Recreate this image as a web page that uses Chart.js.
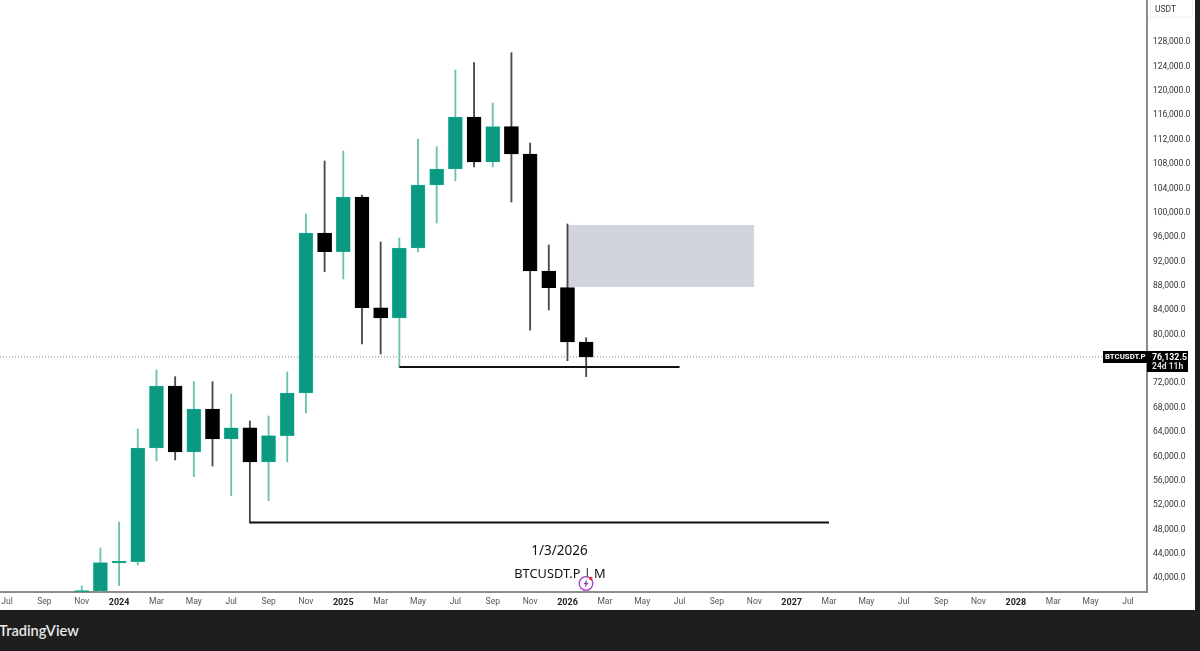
<!DOCTYPE html>
<html>
<head>
<meta charset="utf-8">
<script src="https://cdn.jsdelivr.net/npm/chart.js@4"></script>
<style>
html,body{margin:0;padding:0;width:1200px;height:651px;overflow:hidden;background:#1e1e1e}
#wrap{position:absolute;left:0;top:0;width:1195px;height:610px;background:#fff}
#brand{position:absolute;left:-1px;top:622px;color:#e6e6e6;font:600 14.6px Lato,sans-serif;letter-spacing:0}
</style>
</head>
<body>
<div id="wrap"><canvas id="c" width="1195" height="610"></canvas></div>
<div id="brand">TradingView</div>
<script>
const months = ["Nov 2023","Dec 2023","Jan 2024","Feb 2024","Mar 2024","Apr 2024","May 2024","Jun 2024","Jul 2024","Aug 2024","Sep 2024","Oct 2024","Nov 2024","Dec 2024","Jan 2025","Feb 2025","Mar 2025","Apr 2025","May 2025","Jun 2025","Jul 2025","Aug 2025","Sep 2025","Oct 2025","Nov 2025","Dec 2025","Jan 2026","Feb 2026"];
const monthIndex = [4,5,6,7,8,9,10,11,12,13,14,15,16,17,18,19,20,21,22,23,24,25,26,27,28,29,30,31];
const opens  = [37500,37700,42300,42510,61180,71360,60520,67580,62660,64510,58880,63200,70210,96480,93410,102390,84210,82520,94020,104360,106990,115520,108140,113930,109450,90240,87500,78580];
const closes = [37700,42350,42630,61180,71360,60520,67580,62660,64510,58880,63200,70210,96480,93410,102390,84210,82520,94020,104360,106990,115520,108140,113930,109450,90240,87500,78580,76132];
const highs  = [38520,44760,49030,64300,73990,72890,72060,72060,70050,65610,66430,73660,99600,108300,109940,102720,95000,95660,111910,110650,123240,124440,117820,126080,111250,94510,97960,79290];
const lows   = [37000,37200,38570,41970,59050,59210,56470,58220,53350,48870,52530,58880,66930,90120,88930,78250,76610,74480,93360,98120,105020,107310,107310,101570,80550,83840,75510,72890];

const xTickPositions = [0,2,4,6,8,10,12,14,16,18,20,22,24,26,28,30,32,34,36,38,40,42,44,46,48,50,52,54,56,58,60];
const xTickLabels = ["Jul","Sep","Nov","2024","Mar","May","Jul","Sep","Nov","2025","Mar","May","Jul","Sep","Nov","2026","Mar","May","Jul","Sep","Nov","2027","Mar","May","Jul","Sep","Nov","2028","Mar","May","Jul"];
const yTickValues = [40000,44000,48000,52000,56000,60000,64000,68000,72000,76000,80000,84000,88000,92000,96000,100000,104000,108000,112000,116000,120000,124000,128000];

const zoneX = [30,40];
const zoneTop = 97790;
const zoneBottom = 87610;
const supportA = {x:[21,36], y:74480};
const supportB = {x:[13,44], y:48950};
const lastPrice = 76132.5;
const xMin = -0.375, xMax = 61.02, yMin = 37537, yMax = 134732;

const UP = '#0b9a81', UPW = '#6cc2ad', UPB = '#2cc0a4', DN = '#000000', DNW = '#4a4a4a';
const isUp = i => closes[i] >= opens[i];
const isYear = c => /^\d/.test(xTickLabels[c.index] || '');
const hline = (s,w) => ({type:'line',data:s.x.map(x=>({x,y:s.y})),borderColor:'#111',borderWidth:w,pointRadius:0,order:1,borderCapStyle:'butt'});
const noPad = s => {s.paddingLeft=0;s.paddingRight=0;s.paddingTop=0;s.paddingBottom=0;};

const overlay = {
  id:'overlay',
  afterDraw(chart){
    const g = chart.ctx, ys = chart.scales.y, a = chart.chartArea;
    const py = Math.round(ys.getPixelForValue(lastPrice));
    g.save();
    g.textBaseline='middle';
    // price tags
    g.fillStyle='#000';
    g.fillRect(1103,py-6,44,12);
    g.fillRect(a.right,py-6,41,21);
    g.fillStyle='#fff';
    g.font='bold 7.8px Roboto';
    g.textAlign='left';
    g.fillText('BTCUSDT.P',1105,py+0.5);
    g.font='bold 8.8px Roboto';
    g.fillText('76,132.5',1152,py+0.5);
    g.fillStyle='#ddd';
    g.font='bold 8.5px Roboto';
    g.fillText('24d 11h',1152,py+10);
    // currency box
    g.strokeStyle='#eee';g.lineWidth=1;
    g.strokeRect(1150.5,-1,42,18);
    g.fillStyle='#333';
    g.font='8.5px Roboto';
    g.fillText('USDT',1155,10);
    // watermark
    g.fillStyle='#131313';
    g.textAlign='center';
    g.font='13.5px "Noto Sans"';
    g.fillText('1/3/2026',559.5,551);
    g.font='12.8px "Noto Sans"';
    g.fillText('BTCUSDT.P | M',560,574);
    // alert icon
    g.strokeStyle='#a23cc4';g.lineWidth=1.3;
    g.beginPath();g.arc(586,583.5,6.8,0,Math.PI*2);g.fillStyle='#fff';g.fill();g.stroke();
    g.fillStyle='#8a35c0';
    g.beginPath();g.moveTo(587.5,579);g.lineTo(583.5,584.3);g.lineTo(585.8,584.3);g.lineTo(584.5,588);g.lineTo(588.5,582.8);g.lineTo(586.2,582.8);g.closePath();g.fill();
    g.fillStyle='#e8323c';
    g.beginPath();g.arc(590.8,578.5,1.8,0,Math.PI*2);g.fill();
    g.restore();
  }
};

new Chart(document.getElementById('c'),{
  type:'bar',
  plugins:[overlay],
  data:{datasets:[
    {type:'line',data:zoneX.map(x=>({x,y:zoneTop})),borderWidth:0,pointRadius:0,backgroundColor:'#d1d4dc',fill:{value:zoneBottom},order:6},
    {type:'line',data:[{x:xMin,y:lastPrice},{x:xMax,y:lastPrice}],borderColor:'#7d7d7d',borderWidth:1,borderDash:[1,2],pointRadius:0,order:5},
    {label:'wicks',data:monthIndex.map((m,i)=>({x:m,y:[lows[i],highs[i]]})),barThickness:1.2,grouped:false,backgroundColor:monthIndex.map((m,i)=>isUp(i)?UPW:DNW),order:4},
    {label:'bodies',data:monthIndex.map((m,i)=>({x:m,y:[opens[i],closes[i]]})),barThickness:14,grouped:false,backgroundColor:monthIndex.map((m,i)=>isUp(i)?UP:DN),borderColor:monthIndex.map((m,i)=>isUp(i)?UPB:DN),borderWidth:0.6,borderSkipped:false,minBarLength:1.5,order:3},
    hline(supportA,2),
    hline(supportB,2)
  ]},
  options:{
    responsive:false,animation:false,
    layout:{padding:0},
    plugins:{legend:{display:false},tooltip:{enabled:false}},
    scales:{
      x:{type:'linear',min:xMin,max:xMax,offset:false,
        grid:{display:false,drawTicks:false},
        border:{color:'#8c8c8c',width:2},
        afterBuildTicks(s){s.ticks=xTickPositions.map(value=>({value}));},
        afterFit(s){s.height=18;noPad(s);},
        ticks:{autoSkip:false,maxRotation:0,padding:5,color:c=>isYear(c)?'#222':'#555',
          font:c=>isYear(c)?{family:'Roboto',size:9,weight:'bold'}:{family:'Roboto',size:8.5},
          callback:v=>xTickLabels[xTickPositions.indexOf(v)]}
      },
      y:{type:'linear',position:'right',min:yMin,max:yMax,
        grid:{display:false,drawTicks:false},
        border:{color:'#8c8c8c',width:2},
        afterBuildTicks(s){s.ticks=yTickValues.map(value=>({value}));},
        afterFit(s){s.width=48;noPad(s);},
        ticks:{autoSkip:false,padding:6,labelOffset:1.2,color:'#333',font:{family:'Roboto',size:8.5},
          callback:v=>v.toLocaleString('en-US',{minimumFractionDigits:1,maximumFractionDigits:1})}
      }
    }
  }
});
</script>
</body>
</html>
